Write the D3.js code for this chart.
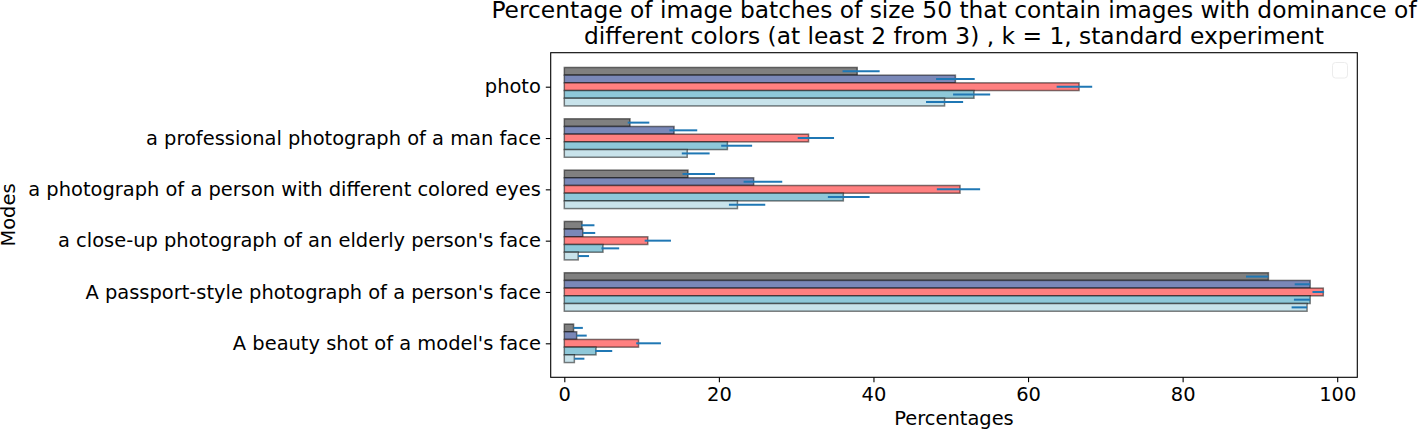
<!DOCTYPE html>
<html>
<head>
<meta charset="utf-8">
<script src="https://cdn.jsdelivr.net/npm/d3@7"></script>
<style>
  html, body { margin: 0; padding: 0; background: #fff; }
  svg { display: block; font-family: "DejaVu Sans", sans-serif; }
</style>
</head>
<body>
<svg id="chart" width="1419" height="430"></svg>
<script>
// ---------- data ----------
const categories = [
  "photo",
  "a professional photograph of a man face",
  "a photograph of a person with different colored eyes",
  "a close-up photograph of an elderly person's face",
  "A passport-style photograph of a person's face",
  "A beauty shot of a model's face"
];
const seriesNames = ["series 1", "series 2", "series 3", "series 4", "series 5"];
const seriesColors = ["#808080", "#7a88b8", "#ff8080", "#8ec8d9", "#c8e3eb"];

const values1 = [37.9, 8.5, 16.0, 2.3, 91.1, 1.2];
const values2 = [50.6, 14.2, 24.5, 2.4, 96.5, 1.6];
const values3 = [66.6, 31.6, 51.2, 10.8, 98.2, 9.6];
const values4 = [53.0, 21.1, 36.1, 5.0, 96.5, 4.1];
const values5 = [49.2, 15.9, 22.4, 1.8, 96.1, 1.3];

const errLow1 = [36.0, 8.2, 15.3, 2.2, 88.2, 1.2];
const errHigh1 = [40.8, 11.0, 19.5, 3.9, 91.1, 2.4];
const errLow2 = [48.1, 13.6, 23.2, 2.4, 94.5, 1.6];
const errHigh2 = [53.1, 17.2, 28.2, 4.0, 96.5, 2.9];
const errLow3 = [63.7, 30.2, 48.2, 10.4, 96.8, 9.3];
const errHigh3 = [68.3, 34.9, 53.8, 13.8, 98.3, 12.5];
const errLow4 = [50.3, 20.3, 34.1, 4.8, 94.4, 4.0];
const errHigh4 = [55.1, 24.3, 39.5, 7.1, 96.5, 6.2];
const errLow5 = [46.8, 15.2, 21.3, 1.8, 94.1, 1.3];
const errHigh5 = [51.6, 18.8, 26.0, 3.2, 96.1, 2.6];

const xTicks = [0, 20, 40, 60, 80, 100];

const titleLines = [
  "Percentage of image batches of size 50 that contain images with dominance of",
  "different colors (at least 2 from 3) , k = 1, standard experiment"
];
const xLabel = "Percentages";
const yLabel = "Modes";

// ---------- build table ----------
const allValues = [values1, values2, values3, values4, values5];
const allLow = [errLow1, errLow2, errLow3, errLow4, errLow5];
const allHigh = [errHigh1, errHigh2, errHigh3, errHigh4, errHigh5];
const barsData = [];
categories.forEach((c, ci) => {
  allValues.forEach((vals, si) => {
    barsData.push({ cat: c, ci, si, v: vals[ci], lo: allLow[si][ci], hi: allHigh[si][ci] });
  });
});

// ---------- layout ----------
const plot = { left: 550.7, right: 1357.3, top: 52.7, bottom: 377.3 };
const svg = d3.select("#chart");
const fontSize = 19.44;
const titleSize = 23.33;

const x = d3.scaleLinear().domain([-1.76, 102.6]).range([plot.left, plot.right]);
const nCat = categories.length;
const y = d3.scaleLinear().domain([-0.6625, nCat - 1 + 0.6625]).range([plot.bottom, plot.top]);
const barH = 0.15;
const catPos = ci => nCat - 1 - ci;
const barCenter = d => catPos(d.ci) + 0.3 - barH * d.si;

// bars
svg.append("g").selectAll("rect").data(barsData).join("rect")
  .attr("x", x(0))
  .attr("y", d => y(barCenter(d) + barH / 2))
  .attr("width", d => x(d.v) - x(0))
  .attr("height", d => y(barCenter(d) - barH / 2) - y(barCenter(d) + barH / 2))
  .attr("fill", d => seriesColors[d.si])
  .attr("stroke", "rgba(0,0,0,0.5)")
  .attr("stroke-width", 1.5);

// error bars
svg.append("g").selectAll("line").data(barsData).join("line")
  .attr("x1", d => x(d.lo))
  .attr("x2", d => x(d.hi))
  .attr("y1", d => y(barCenter(d)))
  .attr("y2", d => y(barCenter(d)))
  .attr("stroke", "#1f77b4")
  .attr("stroke-width", 2);

// frame
svg.append("rect")
  .attr("x", plot.left).attr("y", plot.top)
  .attr("width", plot.right - plot.left).attr("height", plot.bottom - plot.top)
  .attr("fill", "none").attr("stroke", "#000").attr("stroke-width", 1.1);

// x axis
const xAxis = d3.axisBottom(x).tickValues(xTicks).tickSize(4.9).tickPadding(4.9).tickFormat(d3.format("d"));
const gx = svg.append("g").attr("transform", `translate(0,${plot.bottom})`).call(xAxis);
gx.select(".domain").remove();
gx.selectAll(".tick line").attr("stroke", "#000").attr("stroke-width", 1.1);
gx.selectAll(".tick text").attr("fill", "#000").style("font-size", fontSize + "px")
  .style("font-family", "DejaVu Sans");

// y axis
const yAxis = d3.axisLeft(y).tickValues(categories.map((c, i) => catPos(i)))
  .tickSize(4.9).tickPadding(4.9).tickFormat(v => categories[nCat - 1 - v]);
const gy = svg.append("g").attr("transform", `translate(${plot.left},0)`).call(yAxis);
gy.select(".domain").remove();
gy.selectAll(".tick line").attr("stroke", "#000").attr("stroke-width", 1.1);
gy.selectAll(".tick text").attr("fill", "#000").style("font-size", fontSize + "px")
  .style("font-family", "DejaVu Sans");

// empty legend box
svg.append("rect")
  .attr("x", 1332.5).attr("y", 62.5).attr("width", 15).attr("height", 15.5)
  .attr("rx", 3).attr("fill", "#fff").attr("stroke", "#ececec").attr("stroke-width", 1);

// title
const cx = (plot.left + plot.right) / 2;
svg.append("text").attr("x", cx).attr("y", 18).attr("text-anchor", "middle")
  .style("font-size", titleSize + "px").text(titleLines[0]);
svg.append("text").attr("x", cx).attr("y", 44.3).attr("text-anchor", "middle")
  .style("font-size", titleSize + "px").text(titleLines[1]);

// axis labels
svg.append("text").attr("x", cx).attr("y", 425).attr("text-anchor", "middle")
  .style("font-size", fontSize + "px").text(xLabel);
svg.append("text").attr("transform", `translate(14.7,${(plot.top + plot.bottom) / 2}) rotate(-90)`)
  .attr("text-anchor", "middle").style("font-size", fontSize + "px").text(yLabel);
</script>
</body>
</html>
